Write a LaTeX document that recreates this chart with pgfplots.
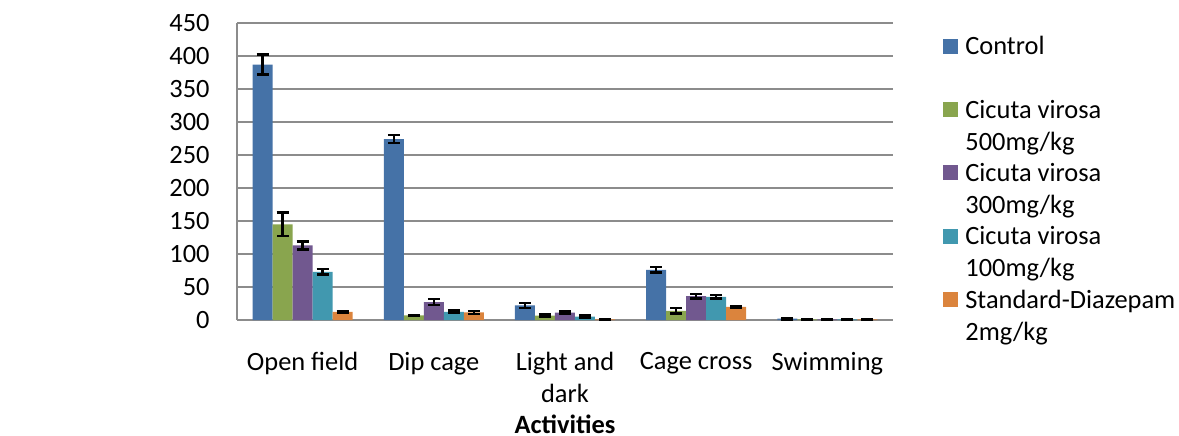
\documentclass[border=0pt]{standalone}
\usepackage{fontspec}
\setmainfont{Carlito}
\usepackage{pgfplots}
\pgfplotsset{compat=1.18}
\definecolor{cCtrl}{HTML}{4572A7}
\definecolor{cFive}{HTML}{89A54E}
\definecolor{cThree}{HTML}{71588F}
\definecolor{cOne}{HTML}{4198AF}
\definecolor{cStd}{HTML}{DB843D}
\definecolor{gridgray}{HTML}{8C8C8C}
\newcommand{\lbl}{\fontsize{13.2bp}{16bp}\selectfont}

\begin{document}
\begin{tikzpicture}
\useasboundingbox (-118.5bp,-58bp) rectangle (471bp,160bp);
\begin{axis}[
  at={(0,0)}, anchor=south west,
  scale only axis, width=328bp, height=148.5bp,
  ybar=0pt, bar width=10bp,
  xmin=-0.5, xmax=4.5, ymin=0, ymax=450,
  xtick=data,
  xticklabels={Open field, Dip cage, {Light and\\dark}, Cage cross, Swimming},
  ytick={0,50,...,450},
  axis lines=left,
  axis line style={-, gridgray, line width=1bp},
  ymajorgrids,
  major grid style={gridgray, line width=0.8bp},
  major tick length=0pt,
  tick label style={font=\lbl},
  /pgf/number format/assume math mode=true,
  yticklabel style={inner sep=0pt, xshift=-13.5bp},
  xticklabel style={inner sep=0pt, anchor=north, align=center, yshift=-16bp},
  xlabel={Activities},
  xlabel style={at={(axis description cs:0.5,0)}, anchor=north, inner sep=0pt,
    yshift=-47.5bp, font=\lbl\bfseries},
  legend image code/.code={\fill[#1] (0bp,3.75bp) rectangle (7.5bp,11.25bp);},
  legend cell align=left,
  legend style={draw=none, fill=none, font=\lbl,
    at={(rel axis cs:1.0762,0.97)}, anchor=north west,
    inner sep=0pt, row sep=3bp, column sep=3.5bp,
    nodes={inner sep=0pt, align=left}},
  error bars/y dir=both, error bars/y explicit,
  error bars/error bar style={black, line width=1.2bp},
  error bars/error mark options={black, line width=1.2bp, mark size=3bp, rotate=90},
]
\addplot[fill=cCtrl, draw=none] coordinates {
  (0,387) +- (0,15)
  (1,274) +- (0,6)
  (2,22) +- (0,4)
  (3,76) +- (0,4)
  (4,2) +- (0,1)
};
\addplot[fill=cFive, draw=none] coordinates {
  (0,145) +- (0,18)
  (1,7) +- (0,1)
  (2,6.5) +- (0,2)
  (3,14) +- (0,4)
  (4,1) +- (0,0.8)
};
\addplot[fill=cThree, draw=none] coordinates {
  (0,113) +- (0,6)
  (1,27) +- (0,4.5)
  (2,11) +- (0,2)
  (3,36) +- (0,3.5)
  (4,1) +- (0,0.8)
};
\addplot[fill=cOne, draw=none] coordinates {
  (0,73) +- (0,4)
  (1,12.5) +- (0,2)
  (2,5) +- (0,2)
  (3,35) +- (0,2.5)
  (4,1) +- (0,0.8)
};
\addplot[fill=cStd, draw=none] coordinates {
  (0,12.5) +- (0,1.5)
  (1,11.5) +- (0,2)
  (2,1) +- (0,0.5)
  (3,20) +- (0,1.5)
  (4,1) +- (0,0.8)
};
\legend{{Control\strut\\\strut},
  {Cicuta virosa\strut\\500mg/kg\strut},
  {Cicuta virosa\strut\\300mg/kg\strut},
  {Cicuta virosa\strut\\100mg/kg\strut},
  {Standard-Diazepam\strut\\2mg/kg\strut}}
\node[font=\fontsize{13.2bp}{14.75bp}\selectfont\bfseries, align=center]
  at (rel axis cs:-0.2134,0.4276) {Neuro-\\pharmacological\\effects};
\end{axis}
\end{tikzpicture}
\end{document}
